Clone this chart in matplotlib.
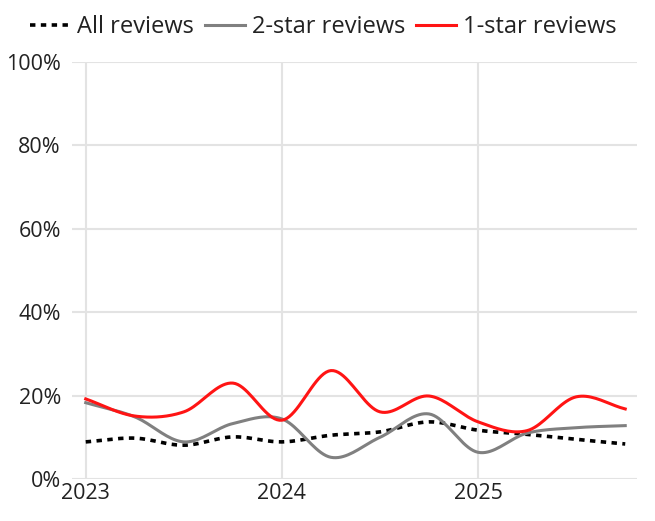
import numpy as np
import matplotlib
matplotlib.use('Agg')
import matplotlib.pyplot as plt
from matplotlib.ticker import FuncFormatter

# quarterly points, 2023 Q1 .. 2025 Q4
quarters = [2023.0, 2023.25, 2023.5, 2023.75,
            2024.0, 2024.25, 2024.5, 2024.75,
            2025.0, 2025.25, 2025.5, 2025.75]
all_reviews = [8.9, 9.8, 8.1, 10.1, 8.9, 10.5, 11.3, 13.7, 11.7, 10.7, 9.5, 8.4]
two_star = [18.3, 14.9, 8.9, 13.3, 14.4, 5.2, 10.0, 15.6, 6.4, 11.0, 12.3, 12.8]
one_star = [19.2, 15.1, 16.1, 23.0, 14.1, 26.0, 16.1, 19.9, 13.7, 11.6, 19.7, 16.8]
year_ticks = [2023, 2024, 2025]
pct_ticks = [0, 20, 40, 60, 80, 100]


def smooth(x, y, n=20):
    # catmull-rom through the points
    x = np.asarray(x, float)
    y = np.asarray(y, float)
    px = np.concatenate([[2 * x[0] - x[1]], x, [2 * x[-1] - x[-2]]])
    py = np.concatenate([[2 * y[0] - y[1]], y, [2 * y[-1] - y[-2]]])
    xs, ys = [], []
    for i in range(1, len(px) - 2):
        t = np.linspace(0, 1, n, endpoint=False)
        for arr, out in ((px, xs), (py, ys)):
            p0, p1, p2, p3 = arr[i - 1], arr[i], arr[i + 1], arr[i + 2]
            out.append(0.5 * (2 * p1 + (-p0 + p2) * t
                              + (2 * p0 - 5 * p1 + 4 * p2 - p3) * t ** 2
                              + (-p0 + 3 * p1 - 3 * p2 + p3) * t ** 3))
    xs.append([x[-1]])
    ys.append([y[-1]])
    return np.concatenate(xs), np.concatenate(ys)


plt.rcParams['font.family'] = ['Open Sans', 'DejaVu Sans']

fig = plt.figure(figsize=(6.55, 5.21), dpi=100)
ax = fig.add_axes([72 / 655, 42 / 521, 565 / 655, 417 / 521])

sx, sy = smooth(quarters, all_reviews)
ax.plot(sx, sy, color='black', lw=2.6, ls=(0, (1.5, 1.5)), label='All reviews')
sx, sy = smooth(quarters, two_star)
ax.plot(sx, sy, color='#808080', lw=2.2, label='2-star reviews')
sx, sy = smooth(quarters, one_star)
ax.plot(sx, sy, color='#ff1414', lw=2.2, label='1-star reviews')

ax.set_xlim(2022.93, 2025.81)
ax.set_ylim(0, 100)
ax.set_xticks(year_ticks)
ax.set_xticklabels([str(y) for y in year_ticks])
ax.set_yticks(pct_ticks)
ax.yaxis.set_major_formatter(FuncFormatter(lambda v, p: f'{v:.0f}%'))
ax.grid(True, color='#e3e3e3', lw=1.5)
ax.set_axisbelow(True)
for s in ax.spines.values():
    s.set_visible(False)
ax.tick_params(length=0, labelsize=15.5, colors='#222222', pad=8)
ax.tick_params(axis='x', pad=3)

fig.legend(loc='upper left', bbox_to_anchor=(24 / 655, 1 - 9 / 521), ncol=3,
           frameon=False, fontsize=17, handlelength=1.7, handletextpad=0.3,
           columnspacing=0.45, borderpad=0.25, borderaxespad=0,
           labelcolor='#222222')

fig.savefig('out.png', dpi=100)
